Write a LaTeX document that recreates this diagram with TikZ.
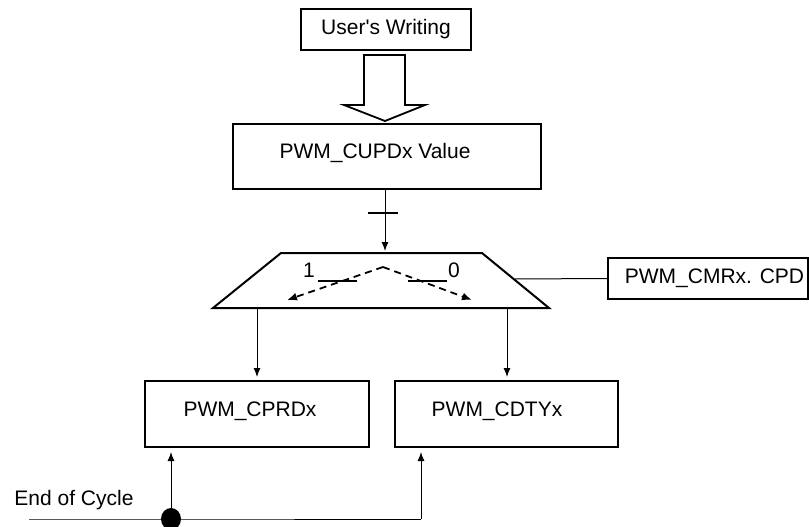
\documentclass[tikz,border=0pt]{standalone}
\usepackage{fontspec}
\setmainfont{Liberation Sans}[Ligatures=TeXOff]
\usetikzlibrary{arrows.meta}
\begin{document}
\begin{tikzpicture}[x=1pt,y=-1pt,
  box/.style={draw,line width=2pt,minimum height=41pt,inner sep=0pt},
  lbl/.style={font=\fontsize{21}{24}\selectfont,inner sep=0pt},
  conn/.style={line width=1pt,-{Latex[length=9pt,width=7pt]}},
  wire/.style={line width=1pt}]
\useasboundingbox (0,0) rectangle (809,527);
% boxes
\node[box,minimum width=170pt] (uw) at (386,29.5) {};
\node[lbl] (uwt) at (386,29) {User's Writing};
\node[box,minimum width=308pt,minimum height=65pt] (cupd) at (387,156.5) {};
\node[lbl] (cupdt) at (375,153) {PWM\_CUPDx Value};
\node[box,minimum width=200pt] (cmr) at (708,278.5) {};
\node[lbl] (cmrt) at (714.5,278) {PWM\_CMRx. CPD};
\node[box,minimum width=224pt,minimum height=66pt] (cprd) at (257,414) {};
\node[lbl] (cprdt) at (250,411) {PWM\_CPRDx};
\node[box,minimum width=223pt,minimum height=66pt] (cdty) at (506.5,414) {};
\node[lbl] (cdtyt) at (497,411) {PWM\_CDTYx};
% hollow arrow
\draw[line width=1.8pt,line join=miter] (364,55) -- (405,55) -- (405,105) -- (425,105) -- (385,121) -- (344,105) -- (364,105) -- cycle;
% trapezoid (multiplexer)
\coordinate (tl) at (281,253);
\coordinate (tr) at (482,253);
\coordinate (br) at (549,308);
\coordinate (bl) at (213,308);
\draw[line width=2pt,line join=miter] (tl) -- (tr) -- (br) -- (bl) -- cycle;
\coordinate (mtop) at (385,253);
\coordinate (mright) at (515,279);
\coordinate (apex) at (383,267);
\coordinate (dl) at (287,300);
\coordinate (dr) at (472,300);
\coordinate (ol) at (257,308);
\coordinate (or) at (507,308);
% input to mux with tick
\draw[conn,shorten >=2pt] (cupd.south -| mtop) -- (mtop);
\draw[line width=1.4pt] (368,213) -- (398,213);
% dashed selection arrows
\draw[line width=1.8pt,dash pattern=on 7pt off 5pt,-{Latex[length=10pt,width=8pt]}] (apex) -- (dl);
\draw[line width=1.8pt,dash pattern=on 7pt off 5pt,-{Latex[length=10pt,width=8pt]}] (apex) -- (dr);
\draw[line width=2pt] (318,281) -- (357,281);
\draw[line width=2pt] (408,281) -- (447,281);
\node[lbl] (one) at (309,270) {1};
\node[lbl] (zero) at (454,270) {0};
% select line
\draw[wire] (mright) -- (cmr.west);
% outputs
\draw[conn,shorten >=3pt] (ol) -- (ol |- cprd.north);
\draw[conn,shorten >=3pt] (or) -- (or |- cdty.north);
% end of cycle
\coordinate (eocin) at (29,519);
\coordinate (dot) at (171,519);
\coordinate (corner) at (421,519);
\node[lbl] (eoc) at (74,500) {End of Cycle};
\draw[wire] (eocin) -- (dot) -- (corner);
\draw[conn,shorten >=4pt] (corner) -- (corner |- cdty.south);
\draw[conn,shorten >=4pt] (dot) -- (dot |- cprd.south);
\fill (dot) ellipse [x radius=10pt,y radius=11pt];
\end{tikzpicture}
\end{document}
